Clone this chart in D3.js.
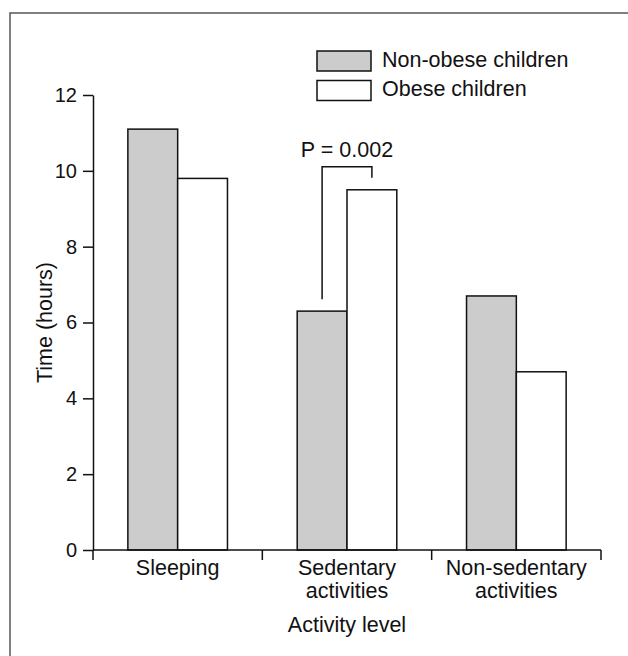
<!DOCTYPE html>
<html>
<head>
<meta charset="utf-8">
<script src="https://cdn.jsdelivr.net/npm/d3@7"></script>
<style>
  body { margin: 0; background: #fff; }
  svg text { font-family: "Liberation Sans", Arial, sans-serif; fill: #111; }
</style>
</head>
<body>
<div id="chart"></div>
<script>
// chart data
const categories = ["Sleeping", "Sedentary activities", "Non-sedentary activities"];
const categoryLines = [["Sleeping"], ["Sedentary", "activities"], ["Non-sedentary", "activities"]];
const series = ["Non-obese children", "Obese children"];
const nonObese = [11.1, 6.3, 6.7];
const obese = [9.8, 9.5, 4.7];
const yTicks = [0, 2, 4, 6, 8, 10, 12];
const pCategory = "Sedentary activities";
const pLabel = "P = 0.002";

const colors = {"Non-obese children": "#cccccc", "Obese children": "#ffffff"};
const fontSize = 21.5;
const tickFont = 20;

const svg = d3.select("#chart").append("svg")
    .attr("width", 628)
    .attr("height", 656);

// outer frame (only left and top edges visible in the picture)
svg.append("rect")
    .attr("x", 10).attr("y", 13)
    .attr("width", 700).attr("height", 700)
    .attr("fill", "none")
    .attr("stroke", "#555")
    .attr("stroke-width", 1.5);

const y = d3.scaleLinear()
    .domain([0, 12])
    .range([550, 95]);

const x = d3.scaleBand()
    .domain(categories)
    .range([93, 601])
    .padding(0);

const xSub = d3.scaleBand()
    .domain(series)
    .range([0, x.bandwidth()])
    .paddingInner(0)
    .paddingOuter(0.7);

const rows = categories.map((c, i) => ({
    category: c,
    values: [
        {key: series[0], value: nonObese[i]},
        {key: series[1], value: obese[i]}
    ]
}));

// bars
const group = svg.selectAll(".grp")
    .data(rows)
    .enter().append("g")
    .attr("class", "grp")
    .attr("transform", d => "translate(" + x(d.category) + ",0)");

group.selectAll("rect")
    .data(d => d.values)
    .enter().append("rect")
    .attr("x", d => xSub(d.key))
    .attr("y", d => y(d.value))
    .attr("width", xSub.bandwidth())
    .attr("height", d => y(0) - y(d.value))
    .attr("fill", d => colors[d.key])
    .attr("stroke", "#111")
    .attr("stroke-width", 1.5);

// y axis
const yAxis = svg.append("g")
    .attr("transform", "translate(93,0)")
    .call(d3.axisLeft(y).tickValues(yTicks).tickSize(10).tickSizeOuter(0));
yAxis.select(".domain").attr("stroke", "#111").attr("stroke-width", 1.5);
yAxis.selectAll(".tick line").attr("stroke", "#111").attr("stroke-width", 1.5);
yAxis.selectAll(".tick text")
    .attr("x", -16)
    .attr("font-size", tickFont)
    .attr("font-family", "Liberation Sans, Arial, sans-serif");

// x axis line with boundary ticks
const xr = x.range();
svg.append("line")
    .attr("x1", xr[0]).attr("x2", xr[1])
    .attr("y1", y(0)).attr("y2", y(0))
    .attr("stroke", "#111").attr("stroke-width", 1.5);

const bounds = categories.map(c => x(c)).concat([xr[1]]);
svg.selectAll(".xtick")
    .data(bounds)
    .enter().append("line")
    .attr("class", "xtick")
    .attr("x1", d => d).attr("x2", d => d)
    .attr("y1", y(0)).attr("y2", y(0) + 10)
    .attr("stroke", "#111").attr("stroke-width", 1.5);

// category labels
const labels = svg.selectAll(".xlab")
    .data(categories)
    .enter().append("text")
    .attr("class", "xlab")
    .attr("text-anchor", "middle")
    .attr("font-size", fontSize)
    .attr("transform", d => "translate(" + (x(d) + x.bandwidth() / 2) + ",575)");

labels.selectAll("tspan")
    .data((d, i) => categoryLines[i])
    .enter().append("tspan")
    .attr("x", 0)
    .attr("y", (d, i) => i * 22.5)
    .text(d => d);

// axis titles
svg.append("text")
    .attr("x", (xr[0] + xr[1]) / 2)
    .attr("y", 632)
    .attr("text-anchor", "middle")
    .attr("font-size", fontSize)
    .text("Activity level");

svg.append("text")
    .attr("transform", "translate(52," + ((y(0) + y(12)) / 2) + ") rotate(-90)")
    .attr("text-anchor", "middle")
    .attr("font-size", fontSize)
    .text("Time (hours)");

// significance bracket
const pi = categories.indexOf(pCategory);
const xa = x(pCategory) + xSub(series[0]) + xSub.bandwidth() / 2;
const xb = x(pCategory) + xSub(series[1]) + xSub.bandwidth() / 2;
const topY = y(Math.max(nonObese[pi], obese[pi])) - 23;
svg.append("path")
    .attr("d", "M" + xa + "," + (y(nonObese[pi]) - 12) +
        "V" + topY + "H" + xb + "V" + (y(obese[pi]) - 12))
    .attr("fill", "none")
    .attr("stroke", "#111")
    .attr("stroke-width", 1.5);
svg.append("text")
    .attr("x", (xa + xb) / 2)
    .attr("y", topY - 9.5)
    .attr("text-anchor", "middle")
    .attr("font-size", fontSize)
    .text(pLabel);

// legend
const legend = svg.selectAll(".leg")
    .data(series)
    .enter().append("g")
    .attr("class", "leg")
    .attr("transform", (d, i) => "translate(317," + (51 + i * 29.5) + ")");
legend.append("rect")
    .attr("width", 54).attr("height", 20)
    .attr("fill", d => colors[d])
    .attr("stroke", "#111").attr("stroke-width", 1.5);
legend.append("text")
    .attr("x", 65)
    .attr("y", 15.5)
    .attr("font-size", fontSize)
    .text(d => d);
</script>
</body>
</html>
